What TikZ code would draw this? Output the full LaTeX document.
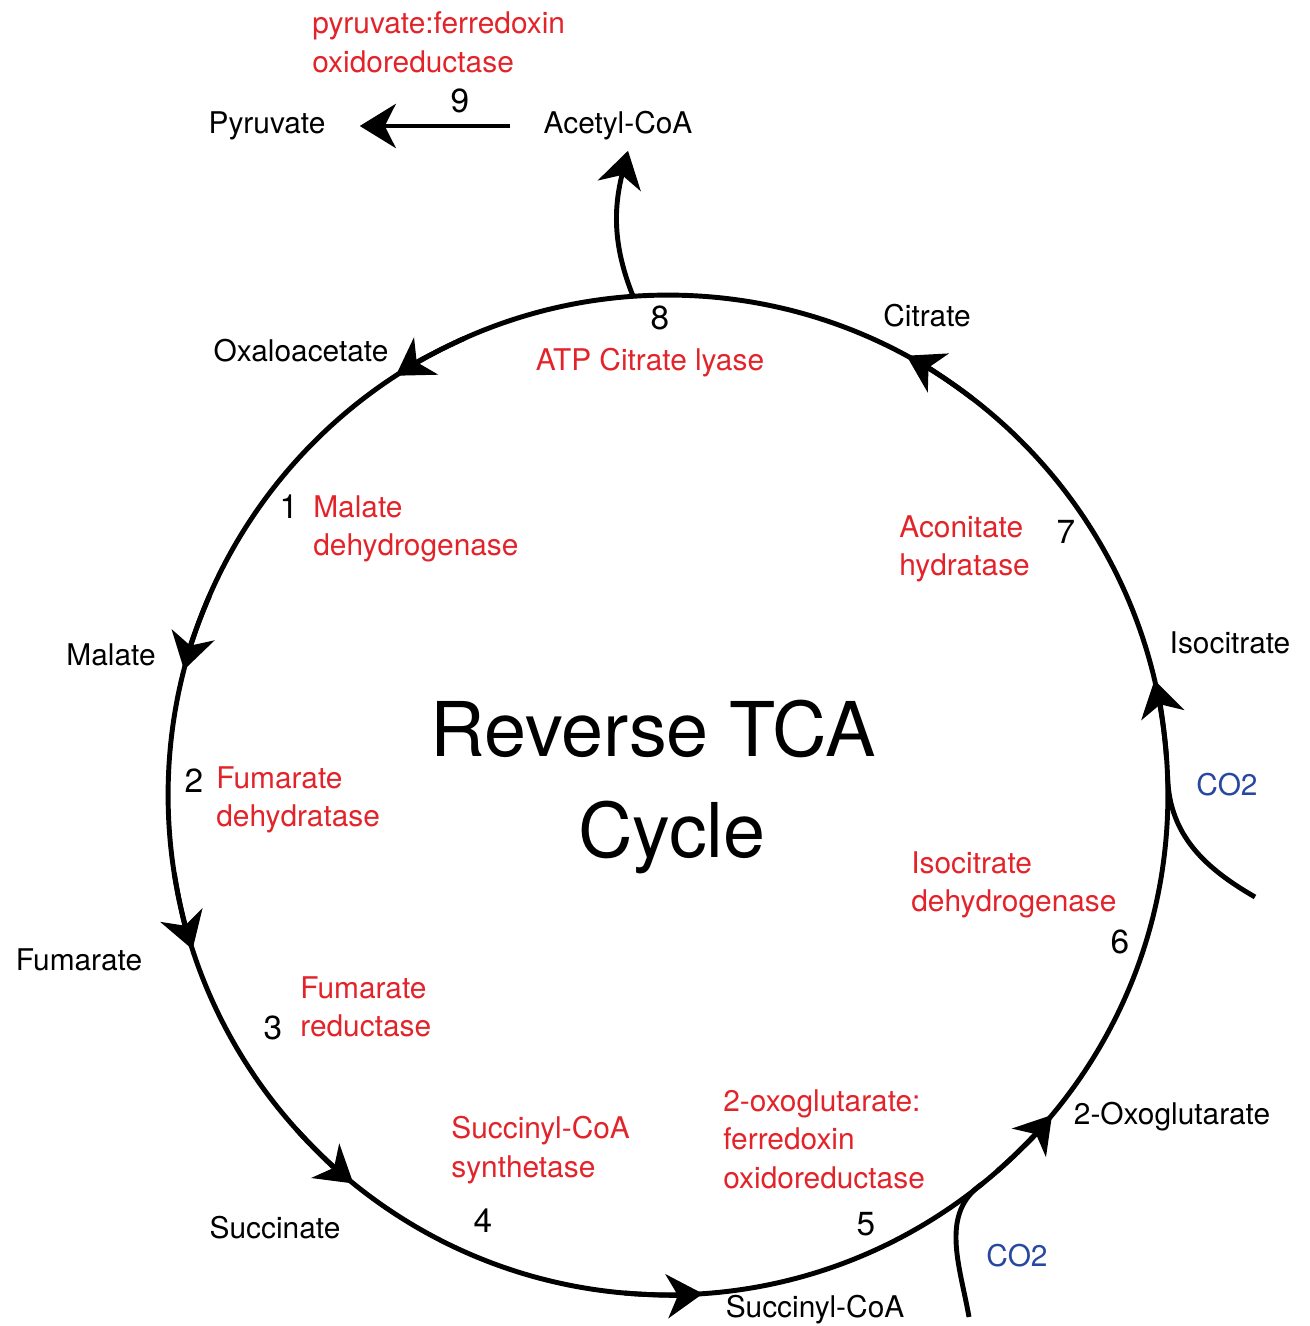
\documentclass[tikz,border=0pt]{standalone}
\usepackage{fontspec}
\setmainfont{TeX Gyre Heros}
\usetikzlibrary{arrows.meta}
\definecolor{enzred}{RGB}{226,36,42}
\definecolor{co2blue}{RGB}{40,72,160}
\begin{document}
\begin{tikzpicture}[x=0.02cm,y=0.02cm,
  cyc/.style={line width=2.8pt},
  tipped/.style={-{Stealth[length=0.72cm,width=0.88cm,inset=0.22cm]}},
  met/.style={inner sep=0pt, font=\fontsize{17}{22}\selectfont},
  num/.style={inner sep=0pt, font=\fontsize{19}{22}\selectfont},
  enz/.style={inner sep=0pt, text=enzred, align=left, anchor=west, font=\fontsize{17}{22}\selectfont},
  co/.style={inner sep=0pt, text=co2blue, font=\fontsize{17}{22}\selectfont},
  ttl/.style={inner sep=0pt, anchor=base, font=\fontsize{43}{52}\selectfont}]
\useasboundingbox (0,0) rectangle (1310,1326);
\coordinate (C) at (668,531);

% metabolites
\node[met] (Pyr) at (267,1200) {Pyruvate};
\node[met] (AcCoA) at (618,1200) {Acetyl-CoA};
\node[met] (Cit) at (927,1010) {Citrate};
\node[met] (Oaa) at (301,975) {Oxaloacetate};
\node[met] (Mal) at (111,671) {Malate};
\node[met] (Iso) at (1230,683) {Isocitrate};
\node[met] (Fum) at (79,366) {Fumarate};
\node[met] (Oxo) at (1172,209) {2-Oxoglutarate};
\node[met] (Suc) at (275,98) {Succinate};
\node[met] (SucCoA) at (815,16) {Succinyl-CoA};

% step numbers
\node[num] (n9) at (460,1225) {9};
\node[num] (n8) at (660,1008) {8};
\node[num] (n1) at (289,819) {1};
\node[num] (n7) at (1066,794) {7};
\node[num] (n2) at (194,545) {2};
\node[num] (n6) at (1120,384) {6};
\node[num] (n3) at (273,298) {3};
\node[num] (n4) at (483,105) {4};
\node[num] (n5) at (866,102) {5};

% enzymes
\node[enz] (e9) at (312,1284) {pyruvate:ferredoxin\\oxidoreductase};
\node[enz, anchor=center] (e8) at (650,963) {ATP Citrate lyase};
\node[enz] (e1) at (313,797) {Malate\\dehydrogenase};
\node[enz] (e7) at (899,777) {Aconitate\\hydratase};
\node[enz] (e2) at (216,526) {Fumarate\\dehydratase};
\node[enz] (e6) at (911,441) {Isocitrate\\dehydrogenase};
\node[enz] (e3) at (300,319) {Fumarate\\reductase};
\node[enz] (e4) at (451,176) {Succinyl-CoA\\synthetase};
\node[enz] (e5) at (723,187) {2-oxoglutarate:\\ferredoxin\\oxidoreductase};

% CO2
\node[co] (co2a) at (1227,541) {CO2};
\node[co] (co2b) at (1017,70) {CO2};

% title
\node[ttl] (t1) at (653,569) {Reverse TCA};
\node[ttl] (t2) at (672,468) {Cycle};

% cycle
\draw[cyc] (C) circle[radius=10cm];
\foreach \a in {123,165.5,198,231,274,320.2,13.3,61.5}{
  \draw[cyc,tipped] ([shift={(C)}]\a-9:10cm) arc[start angle=\a-9, end angle=\a, radius=10cm];
}

% acetyl-CoA branch
\coordinate (c8) at ([shift={(C)}]94:10cm);
\coordinate (acin) at ([xshift=0.2cm,yshift=-0.2cm]AcCoA.south);
\draw[cyc,tipped] (c8) to[out=112,in=-104] (acin);

% step 9
\draw[cyc,tipped,shorten <=0.66cm,shorten >=0.68cm] (AcCoA.west) -- (Pyr.east);

% CO2 inputs
\coordinate (co2aStart) at (1255,429);
\coordinate (co2aEnd) at ([shift={(C)}]2:10cm);
\draw[cyc] (co2aStart) to[out=150,in=-88] (co2aEnd);
\coordinate (co2bStart) at (969,9);
\coordinate (co2bEnd) at ([shift={(C)}]309:10cm);
\draw[cyc] (co2bStart) to[out=100,in=214] (co2bEnd);
\end{tikzpicture}
\end{document}
